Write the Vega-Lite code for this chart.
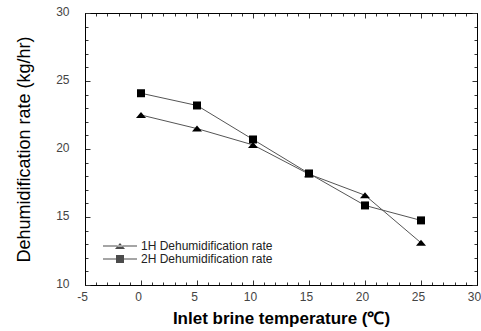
{
  "$schema": "https://vega.github.io/schema/vega-lite/v6.json",
  "width": 392,
  "height": 272,
  "autosize": {"type": "none"},
  "padding": {"left": 85, "top": 13, "right": 4, "bottom": 46},
  "background": "white",
  "config": {
    "view": {"stroke": "black", "strokeWidth": 1},
    "font": "Liberation Sans",
    "axis": {"grid": false, "domain": true, "domainColor": "black", "domainWidth": 1, "tickColor": "#333", "labelFont": "Liberation Sans", "labelFontSize": 12, "labelColor": "#444"}
  },
  "data": {
    "values": [
      {"t": 0, "rate": 22.5, "series": "1H Dehumidification rate"},
      {"t": 5, "rate": 21.5, "series": "1H Dehumidification rate"},
      {"t": 10, "rate": 20.3, "series": "1H Dehumidification rate"},
      {"t": 15, "rate": 18.15, "series": "1H Dehumidification rate"},
      {"t": 20, "rate": 16.6, "series": "1H Dehumidification rate"},
      {"t": 25, "rate": 13.1, "series": "1H Dehumidification rate"},
      {"t": 0, "rate": 24.1, "series": "2H Dehumidification rate"},
      {"t": 5, "rate": 23.2, "series": "2H Dehumidification rate"},
      {"t": 10, "rate": 20.7, "series": "2H Dehumidification rate"},
      {"t": 15, "rate": 18.2, "series": "2H Dehumidification rate"},
      {"t": 20, "rate": 15.85, "series": "2H Dehumidification rate"},
      {"t": 25, "rate": 14.75, "series": "2H Dehumidification rate"}
    ]
  },
  "layer": [
    {
      "mark": {"type": "line", "color": "#555", "strokeWidth": 1},
      "encoding": {
        "x": {"field": "t", "type": "quantitative", "scale": {"domain": [-5, 30], "nice": false, "zero": false},
          "axis": {"orient": "bottom", "values": [-5,-4,-3,-2,-1,0,1,2,3,4,5,6,7,8,9,10,11,12,13,14,15,16,17,18,19,20,21,22,23,24,25,26,27,28,29,30],
            "labelExpr": "datum.value % 5 === 0 ? '' + datum.value : ''",
            "tickSize": {"condition": {"test": "datum.value % 5 === 0", "value": -5}, "value": -3},
            "labelPadding": 11, "labelOffset": -3, "labelFlush": false,
            "title": "Inlet brine temperature (℃)", "titleFont": "Liberation Sans", "titleFontSize": 17, "titleFontWeight": "bold", "titleColor": "black", "titlePadding": 8}},
        "y": {"field": "rate", "type": "quantitative", "scale": {"domain": [10, 30], "nice": false, "zero": false},
          "axis": {"orient": "left", "values": [10,11,12,13,14,15,16,17,18,19,20,21,22,23,24,25,26,27,28,29,30],
            "labelExpr": "datum.value % 5 === 0 ? '' + datum.value : ''",
            "tickSize": {"condition": {"test": "datum.value % 5 === 0", "value": -5}, "value": -3},
            "labelPadding": 21, "labelFlush": false, "labelOffset": -2,
            "title": "Dehumidification rate (kg/hr)", "titleFont": "Liberation Sans", "titleFontSize": 18, "titleFontWeight": "normal", "titleColor": "black", "titlePadding": 22}},
        "detail": {"field": "series"}
      }
    },
    {
      "mark": {"type": "line", "opacity": 0},
      "encoding": {
        "x": {"field": "t", "type": "quantitative", "scale": {"domain": [-5, 30], "nice": false, "zero": false},
          "axis": {"orient": "top", "values": [-5,-4,-3,-2,-1,0,1,2,3,4,5,6,7,8,9,10,11,12,13,14,15,16,17,18,19,20,21,22,23,24,25,26,27,28,29,30],
            "labels": false, "title": null,
            "tickSize": {"condition": {"test": "datum.value % 5 === 0", "value": -5}, "value": -3}}},
        "y": {"field": "rate", "type": "quantitative", "scale": {"domain": [10, 30], "nice": false, "zero": false},
          "axis": {"orient": "right", "values": [10,11,12,13,14,15,16,17,18,19,20,21,22,23,24,25,26,27,28,29,30],
            "labels": false, "title": null,
            "tickSize": {"condition": {"test": "datum.value % 5 === 0", "value": -5}, "value": -3}}},
        "detail": {"field": "series"}
      }
    },
    {
      "mark": {"type": "point", "filled": true, "opacity": 1, "color": "black", "size": 100},
      "encoding": {
        "x": {"field": "t", "type": "quantitative", "axis": null},
        "y": {"field": "rate", "type": "quantitative", "axis": null},
        "shape": {"field": "series", "type": "nominal", "legend": null,
          "scale": {"domain": ["1H Dehumidification rate", "2H Dehumidification rate"],
            "range": ["M-1,0.6L1,0.6L0,-0.6Z", "M-0.8,-0.8H0.8V0.8H-0.8Z"]}}
      }
    },
    {
      "transform": [{"filter": {"field": "series", "equal": "none"}}],
      "mark": {"type": "point", "filled": true, "color": "black"},
      "encoding": {
        "shape": {"field": "series", "type": "nominal",
          "scale": {"domain": ["1H Dehumidification rate", "2H Dehumidification rate"],
            "range": ["M-3.4,-0.1H3.4V0.1H-3.4ZM-1,0.6L1,0.6L0,-0.6Z", "M-3.4,-0.1H3.4V0.1H-3.4ZM-0.8,-0.8H0.8V0.8H-0.8Z"]},
          "legend": {"orient": "none", "legendX": 29, "legendY": 227, "title": null, "padding": 0,
            "symbolSize": 100, "symbolFillColor": "black",
            "labelFont": "Liberation Sans", "labelFontSize": 12, "labelColor": "#222", "labelOffset": 15, "rowPadding": 0,
            "encode": {"symbols": {"update": {"fill": {"value": "black"}, "size": {"value": 100}}}}}}
      }
    }
  ],
  "resolve": {"axis": {"x": "independent", "y": "independent"}, "scale": {"shape": "independent"}}
}
